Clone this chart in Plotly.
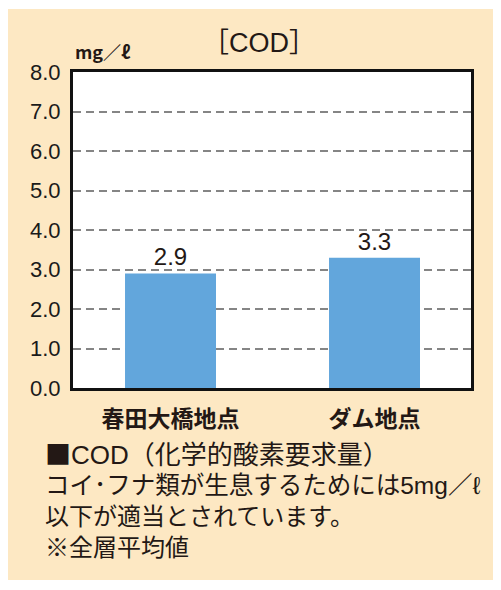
import plotly.graph_objects as go

# data
sites = ["春田大橋地点", "ダム地点"]
cod = [2.9, 3.3]
y_ticks = [0, 1, 2, 3, 4, 5, 6, 7, 8]
title = "［COD］"
unit = "mg／ℓ"
notes = [
    "<span style='font-family:Noto Sans CJK JP'>■</span>COD（化学的酸素要求量）",
    "コイ･フナ類が生息するためには5mg／ℓ",
    "以下が適当とされています。",
    "※全層平均値",
]

# page has an 8px body margin, so the figure is shifted by that
OFF = 8
W, H = 501 - OFF, 590 - OFF
L, R, T, B = 73 - OFF, 30, 72 - OFF, 202
PW, PH = W - L - R, H - T - B

def px(x):
    return (x - OFF - L) / PW

def py(y):
    return (H - B - (y - OFF)) / PH

FONT = "Liberation Sans, Noto Sans CJK JP"
INK = "#231815"
BEIGE = "#fde8c3"

fig = go.Figure(go.Bar(
    x=sites, y=cod,
    width=0.446,
    marker=dict(color="#62a6dc", line=dict(width=0)),
    text=[f"{v:.1f}" for v in cod], textposition="outside",
    textfont=dict(family=FONT, size=24, color=INK),
    cliponaxis=False,
))

fig.update_layout(
    width=W, height=H,
    margin=dict(l=L, r=R, t=T, b=B, pad=0),
    paper_bgcolor=BEIGE, plot_bgcolor="white",
    showlegend=False,
    font=dict(family=FONT, color=INK),
)

fig.update_xaxes(
    range=[-0.478, 1.473],
    showline=True, mirror=True, linecolor="#111", linewidth=3,
    showgrid=False, ticks="",
    tickfont=dict(family="Noto Sans CJK JP", size=23, color=INK, weight="bold"),
    ticklabelstandoff=8,
)
fig.update_yaxes(
    range=[0, 8], tickvals=y_ticks, tickformat=".1f",
    showline=True, mirror=True, linecolor="#111", linewidth=3,
    showgrid=True, gridcolor="#858585", gridwidth=1.5, griddash="8px,5px",
    zeroline=False, ticks="",
    tickfont=dict(family=FONT, size=22, color="#1a1a1a"),
    ticklabelstandoff=5,
)

# white surround outside the beige panel
for x0, x1, y0, y1 in [(-1, px(7), -1, 2), (-1, 2, py(9), 2), (-1, 2, -1, py(580))]:
    fig.add_shape(type="rect", xref="paper", yref="paper",
                  x0=x0, x1=x1, y0=y0, y1=y1,
                  fillcolor="white", line=dict(width=0), layer="below")

fig.add_annotation(text=title, xref="paper", yref="paper",
                   x=px(259), y=py(43), xanchor="center", yanchor="middle",
                   showarrow=False, font=dict(family=FONT, size=27, color=INK))
fig.add_annotation(text=unit, xref="paper", yref="paper",
                   x=px(73), y=py(51), xanchor="left", yanchor="middle",
                   showarrow=False, font=dict(family="Noto Sans CJK JP", size=18, color=INK, weight="bold"))

for line, yc, size in zip(notes, [452, 485, 516, 547], [26, 24.5, 24, 24]):
    fig.add_annotation(text=line, xref="paper", yref="paper",
                       x=px(43), y=py(yc), xanchor="left", yanchor="middle",
                       showarrow=False, font=dict(family=FONT, size=size, color=INK))

fig.write_html("out.html")
